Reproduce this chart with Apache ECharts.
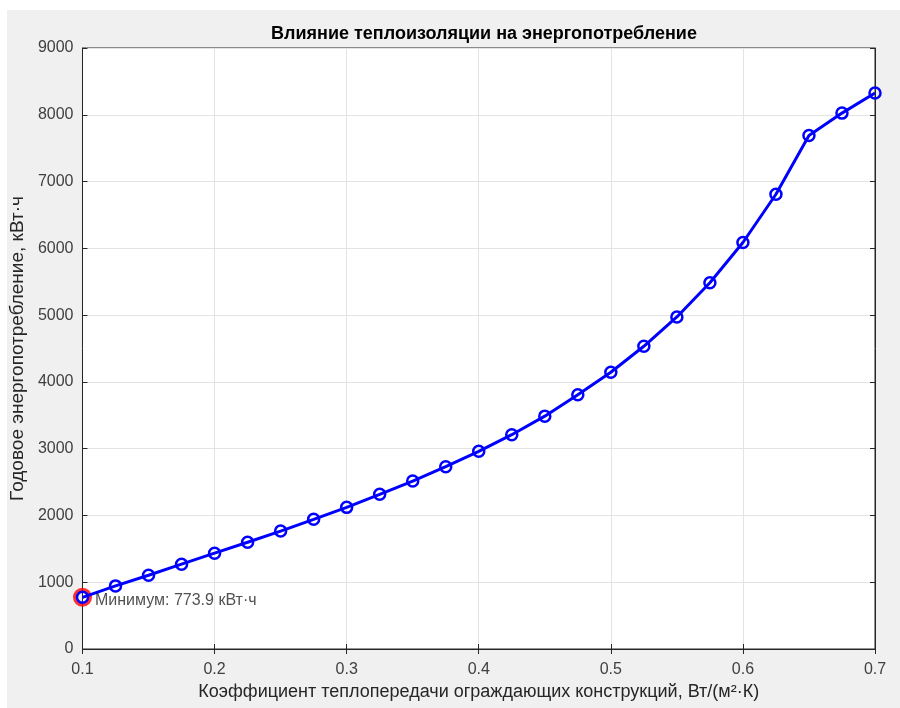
<!DOCTYPE html>
<html><head><meta charset="utf-8">
<script src="https://cdn.jsdelivr.net/npm/echarts@6/dist/echarts.min.js"></script>
<style>html,body{margin:0;padding:0;background:#fff}#c{width:900px;height:708px}</style>
</head><body><div id="c"></div>
<script>
const xValues = [0.1,0.125,0.15,0.175,0.2,0.225,0.25,0.275,0.3,0.325,0.35,0.375,0.4,0.425,0.45,0.475,0.5,0.525,0.55,0.575,0.6,0.625,0.65,0.675,0.7];
const energy = [773.9,945,1105,1270,1435,1598,1766,1942,2121,2316,2515,2730,2960,3209,3487,3806,4144,4533,4972,5485,6087,6810,7691,8025,8325];
const minPoint = [0.1, 773.9];
const title = 'Влияние теплоизоляции на энергопотребление';
const xName = 'Коэффициент теплопередачи ограждающих конструкций, Вт/(м²·К)';
const yName = 'Годовое энергопотребление, кВт·ч';
const minLabel = 'Минимум: 773.9 кВт·ч';

const font = 'Liberation Sans';
const chart = echarts.init(document.getElementById('c'));
const axisCol = '#262626';
const lineData = xValues.map((x, i) => [x, energy[i]]);
chart.setOption({
  backgroundColor: '#f0f0f0',
  animation: false,
  graphic: [
    {type:'rect', shape:{x:0,y:0,width:900,height:10}, style:{fill:'#fff'}, silent:true},
    {type:'rect', shape:{x:0,y:0,width:7,height:708}, style:{fill:'#fff'}, silent:true}
  ],
  title: {
    text: title, left: 479, top: 20, textAlign: 'center',
    textStyle: {fontFamily: font, fontSize: 18, fontWeight: 'bold', color: '#000'}
  },
  grid: {left: 82, right: 25, top: 48, bottom: 59, show: true, backgroundColor: '#fff', borderColor: axisCol, borderWidth: 1},
  xAxis: [{
    type: 'value', min: 0.1, max: 0.7, interval: 0.1,
    name: xName, nameLocation: 'middle', nameGap: 34,
    nameTextStyle: {fontFamily: font, fontSize: 18, color: axisCol},
    axisLine: {show: true, lineStyle: {color: axisCol}},
    axisTick: {show: true, inside: true, length: 5, lineStyle: {color: axisCol}},
    axisLabel: {fontFamily: font, fontSize: 16, color: '#404040', margin: 13, formatter: v => (+v.toFixed(1)).toString()},
    splitLine: {show: true, lineStyle: {color: '#e3e3e3'}}
  }, {
    type: 'value', min: 0.1, max: 0.7, interval: 0.1, position: 'top',
    axisLine: {show: true, lineStyle: {color: axisCol}},
    axisTick: {show: true, inside: true, length: 5, lineStyle: {color: axisCol}},
    axisLabel: {show: false}, splitLine: {show: false}
  }],
  yAxis: [{
    type: 'value', min: 0, max: 9000, interval: 1000,
    name: yName, nameLocation: 'middle', nameGap: 42,
    nameTextStyle: {fontFamily: font, fontSize: 19, color: axisCol},
    axisLine: {show: true, lineStyle: {color: axisCol}},
    axisTick: {show: true, inside: true, length: 5, lineStyle: {color: axisCol}},
    axisLabel: {fontFamily: font, fontSize: 16, color: '#404040', margin: 9, formatter: v => String(v)},
    splitLine: {show: true, lineStyle: {color: '#e3e3e3'}}
  }, {
    type: 'value', min: 0, max: 9000, interval: 1000, position: 'right',
    axisLine: {show: true, lineStyle: {color: axisCol}},
    axisTick: {show: true, inside: true, length: 5, lineStyle: {color: axisCol}},
    axisLabel: {show: false}, splitLine: {show: false}
  }],
  series: [{
    type: 'scatter', data: [minPoint], symbol: 'circle', symbolSize: 15, clip: false, z: 1,
    itemStyle: {color: 'rgba(0,0,0,0)', borderColor: '#ff0000', borderWidth: 4},
    label: {show: true, position: 'right', distance: 3, offset: [0, 3], formatter: minLabel,
      fontFamily: font, fontSize: 16, color: '#262626'}
  }, {
    type: 'line', data: lineData, symbol: 'circle', symbolSize: 11, showAllSymbol: true, z: 3,
    lineStyle: {color: '#0000ff', width: 3},
    itemStyle: {color: 'rgba(0,0,0,0)', borderColor: '#0000ff', borderWidth: 2.5}
  }]
});
</script></body></html>
